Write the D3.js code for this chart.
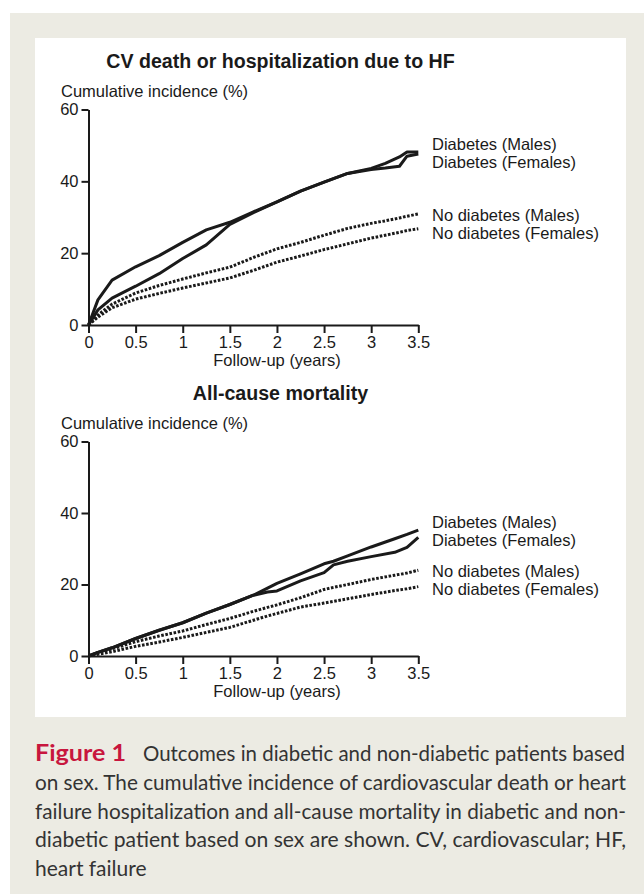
<!DOCTYPE html>
<html>
<head>
<meta charset="utf-8">
<script src="https://d3js.org/d3.v7.min.js"></script>
<style>
  body { margin: 0; background: #fff; }
  svg { display: block; }
  .ax text { font-family: "Liberation Sans", Arial, sans-serif; font-size: 16.5px; fill: #1a1a1a; }
  .ax path, .ax line { stroke: #1a1a1a; stroke-width: 2; }
</style>
</head>
<body>
<svg width="644" height="894"></svg>
<script>
// follow-up times (years)
var cvYears  = [0, 0.1, 0.25, 0.5, 0.75, 1.0, 1.25, 1.5, 1.75, 2.0, 2.25, 2.5, 2.75, 3.0, 3.15, 3.3, 3.38, 3.5];
var cvDiabMale   = [0, 7.0, 12.5, 16.2, 19.3, 23.0, 26.5, 28.6, 31.5, 34.3, 37.3, 39.8, 42.2, 43.6, 45.0, 46.8, 48.2, 48.2];
var cvDiabFemale = [0, 4.2, 7.5, 10.8, 14.3, 18.5, 22.3, 28.0, 31.3, 34.3, 37.3, 39.8, 42.2, 43.3, 43.7, 44.2, 47.0, 47.6];
var cvNoDiabMale   = [0, 2.8, 5.8, 8.9, 11.0, 12.8, 14.5, 16.1, 18.8, 21.2, 23.0, 25.0, 26.9, 28.3, 29.0, 29.8, 30.3, 30.9];
var cvNoDiabFemale = [0, 2.2, 4.8, 7.2, 8.8, 10.3, 11.7, 13.1, 15.2, 17.5, 19.2, 21.0, 22.6, 24.2, 25.0, 25.8, 26.3, 26.8];

var acmYears = [0, 0.1, 0.25, 0.5, 0.75, 1.0, 1.25, 1.5, 1.75, 1.9, 2.0, 2.25, 2.5, 2.6, 2.75, 3.0, 3.25, 3.38, 3.5];
var acmDiabMale   = [0, 1.0, 2.3, 4.9, 7.2, 9.3, 12.0, 14.4, 17.0, 19.0, 20.3, 23.0, 25.8, 26.5, 28.0, 30.5, 32.8, 34.0, 35.2];
var acmDiabFemale = [0, 1.0, 2.3, 4.9, 7.2, 9.3, 12.0, 14.4, 17.0, 17.9, 18.2, 21.0, 23.3, 25.5, 26.5, 27.8, 29.0, 30.4, 33.2];
var acmNoDiabMale   = [0, 0.9, 2.0, 4.0, 5.6, 7.0, 8.8, 10.5, 12.5, 13.6, 14.3, 16.3, 18.6, 19.2, 20.0, 21.4, 22.6, 23.2, 24.0];
var acmNoDiabFemale = [0, 0.5, 1.2, 2.7, 3.9, 5.2, 6.6, 8.0, 10.0, 11.2, 11.9, 13.7, 14.8, 15.3, 16.0, 17.2, 18.3, 18.8, 19.4];

var groupNames = ["Diabetes (Males)", "Diabetes (Females)", "No diabetes (Males)", "No diabetes (Females)"];
var xTicks = [0, 0.5, 1, 1.5, 2, 2.5, 3, 3.5];
var yTicks = [0, 20, 40, 60];

var captionLines = [
  "Outcomes in diabetic and non-diabetic patients based",
  "on sex. The cumulative incidence of cardiovascular death or heart",
  "failure hospitalization and all-cause mortality in diabetic and non-",
  "diabetic patient based on sex are shown. CV, cardiovascular; HF,",
  "heart failure"
];

var svg = d3.select("svg");
var font = '"Liberation Sans", Arial, sans-serif';

// page background + white figure panel
svg.append("rect").attr("x", 10).attr("y", 13).attr("width", 634).attr("height", 881).attr("fill", "#ecebe3");
svg.append("rect").attr("x", 35).attr("y", 38).attr("width", 591).attr("height", 679).attr("fill", "#fff");

var panels = [
  { title: "CV death or hospitalization due to HF", top: 109.5, bottom: 325, t: cvYears,
    series: [cvDiabMale, cvDiabFemale, cvNoDiabMale, cvNoDiabFemale], labelY: [150, 167.5, 221, 238.5] },
  { title: "All-cause mortality", top: 441.5, bottom: 656, t: acmYears,
    series: [acmDiabMale, acmDiabFemale, acmNoDiabMale, acmNoDiabFemale], labelY: [528, 546, 576.5, 594.5] }
];

var x = d3.scaleLinear().domain([0, 3.5]).range([88.5, 418.3]);

panels.forEach(function(p) {
  var y = d3.scaleLinear().domain([0, 60]).range([p.bottom, p.top]);
  var g = svg.append("g");

  g.append("text").attr("x", 280.5).attr("y", p.top - 41.5)
    .attr("text-anchor", "middle").attr("font-family", font)
    .attr("font-weight", "bold").attr("font-size", 19.6).attr("fill", "#1a1a1a")
    .text(p.title);

  g.append("text").attr("x", 61).attr("y", p.top - 12.8)
    .attr("font-family", font).attr("font-size", 16.5).attr("fill", "#1a1a1a")
    .text("Cumulative incidence (%)");

  g.append("g").attr("class", "ax")
    .attr("transform", "translate(0," + p.bottom + ")")
    .call(d3.axisBottom(x).tickValues(xTicks).tickSize(8).tickSizeOuter(0).tickPadding(3.5)
      .tickFormat(d3.format("")));

  g.append("g").attr("class", "ax")
    .attr("transform", "translate(" + x(0) + ",0)")
    .call(d3.axisLeft(y).tickValues(yTicks).tickSize(7).tickSizeOuter(0).tickPadding(3));

  g.append("text").attr("x", 277).attr("y", p.bottom + 40.5)
    .attr("text-anchor", "middle").attr("font-family", font).attr("font-size", 16.5).attr("fill", "#1a1a1a")
    .text("Follow-up (years)");

  var line = d3.line().x(function(d) { return x(d[0]); }).y(function(d) { return y(d[1]); });

  p.series.forEach(function(vals, i) {
    var pts = p.t.map(function(tt, j) { return [tt, vals[j]]; });
    g.append("path").datum(pts)
      .attr("d", line)
      .attr("fill", "none")
      .attr("stroke", "#1a1a1a")
      .attr("stroke-width", i < 2 ? 3 : 3)
      .attr("stroke-linejoin", "round")
      .attr("stroke-dasharray", i < 2 ? null : "2.6,1.6");

    g.append("text").attr("x", 432).attr("y", p.labelY[i])
      .attr("font-family", font).attr("font-size", 16.5).attr("fill", "#1a1a1a")
      .text(groupNames[i]);
  });
});

// caption
var cap = svg.append("g").attr("font-family", "Lato, 'Open Sans', sans-serif").attr("font-size", 21).attr("fill", "#333");
cap.append("text").attr("x", 35).attr("y", 761)
  .attr("fill", "#c8163e").attr("font-weight", "bold").attr("font-size", 22)
  .attr("textLength", 91).attr("lengthAdjust", "spacingAndGlyphs")
  .text("Figure 1");

captionLines.forEach(function(s, i) {
  var t = cap.append("text").attr("x", i === 0 ? 143 : 35).attr("y", 761 + i * 28.8).text(s);
  if (i < captionLines.length - 1) {
    t.attr("textLength", i === 0 ? 482 : 591).attr("lengthAdjust", "spacingAndGlyphs");
  }
});
</script>
</body>
</html>
